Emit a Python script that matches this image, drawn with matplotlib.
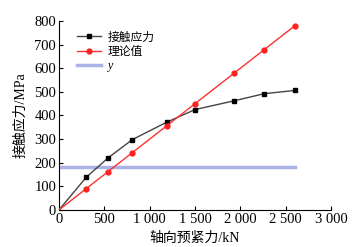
import matplotlib
matplotlib.use("Agg")
import matplotlib.pyplot as plt

plt.rcParams["font.family"] = ["Liberation Serif", "Noto Sans CJK SC"]

# ── Data ──────────────────────────────────────────────────────────────────────
preload = [0, 300, 540, 810, 1190, 1500, 1930, 2260, 2600]
contact = [0, 138, 220, 298, 372, 425, 462, 492, 506]
theory  = [0, 90, 162, 243, 357, 450, 579, 678, 780]
y_x     = [0, 2600]
y_val   = [180, 180]

xticks      = [0, 500, 1000, 1500, 2000, 2500, 3000]
xticklabels = ["0", "500", "1 000", "1 500", "2 000", "2 500", "3 000"]
yticks      = [0, 100, 200, 300, 400, 500, 600, 700, 800]

# ── Plot ──────────────────────────────────────────────────────────────────────
fig = plt.figure(figsize=(3.53, 2.47), dpi=100)
ax = fig.add_axes([0.167, 0.150, 0.771, 0.765])

marks = list(range(1, len(preload)))
ax.plot(preload, contact, color="#444444", lw=1.0, marker="s", ms=3.5,
        mfc="black", mec="black", markevery=marks, label="接触应力", zorder=3)
ax.plot(preload, theory, color="#ff3030", lw=1.0, marker="o", ms=3.5,
        mfc="#ff2020", mec="#ff2020", markevery=marks, label="理论值", zorder=3)
ax.plot(y_x, y_val, color="#aab2e8", lw=2.5, label="y", zorder=2)

ax.set_xlim(0, 3000)
ax.set_ylim(0, 800)
ax.set_xticks(xticks)
ax.set_xticklabels(xticklabels)
ax.set_yticks(yticks)
ax.tick_params(direction="in", length=3, labelsize=10.5, width=0.8, pad=2)
for s in ("top", "right"):
    ax.spines[s].set_visible(False)
for s in ("left", "bottom"):
    ax.spines[s].set_linewidth(0.8)

ax.set_xlabel("轴向预紧力/kN", fontsize=10, labelpad=4)
ax.set_ylabel("接触应力/MPa", fontsize=10, labelpad=5)

leg = ax.legend(loc="upper left", bbox_to_anchor=(0.05, 0.97), frameon=False,
                fontsize=8.5, handlelength=2.0, handletextpad=0.6,
                labelspacing=0.2, borderaxespad=0)
for t in leg.get_texts():
    if t.get_text() == "y":
        t.set_fontstyle("italic")

fig.savefig("out.png", dpi=100)
